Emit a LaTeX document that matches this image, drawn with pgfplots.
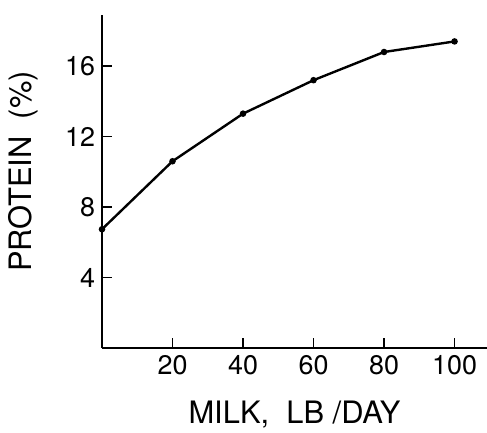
\documentclass[border=0pt]{standalone}
\usepackage{fontspec}
\setmainfont{TeX Gyre Heros}
\usepackage{pgfplots}
\pgfplotsset{compat=1.18}
\begin{document}
\begin{tikzpicture}
\path[use as bounding box] (0,0) rectangle (243.5bp,216.5bp);
\begin{axis}[
  at={(51bp,42.5bp)}, anchor=south west,
  scale only axis, width=192.5bp, height=166.5bp,
  xmin=0, xmax=109.2, ymin=0, ymax=18.9,
  axis lines=left, axis line style={-, line width=1.1pt},
  tick align=inside, major tick length=5bp,
  tick style={line width=0.9pt, black},
  xtick={20,40,60,80,100}, ytick={4,8,12,16},
  /pgf/number format/assume math mode=true,
  tick label style={font=\fontsize{13.5}{16}\selectfont},
  label style={font=\fontsize{15.5}{18}\selectfont},
  xlabel={MILK,\ \ LB /DAY},
  ylabel={PROTEIN\ \ (\%)},
  xlabel style={at={(axis description cs:0.5,-0.20)}, anchor=center},
  ylabel style={at={(axis description cs:-0.205,0.53)}, anchor=center, rotate=0},
  clip=false,
]
\addplot[black, line width=1.2pt, mark=*, mark size=1pt] coordinates {
  (0,6.74) (20,10.6) (40,13.3) (60,15.2) (80,16.8) (100,17.4)
};
\end{axis}
\end{tikzpicture}
\end{document}
